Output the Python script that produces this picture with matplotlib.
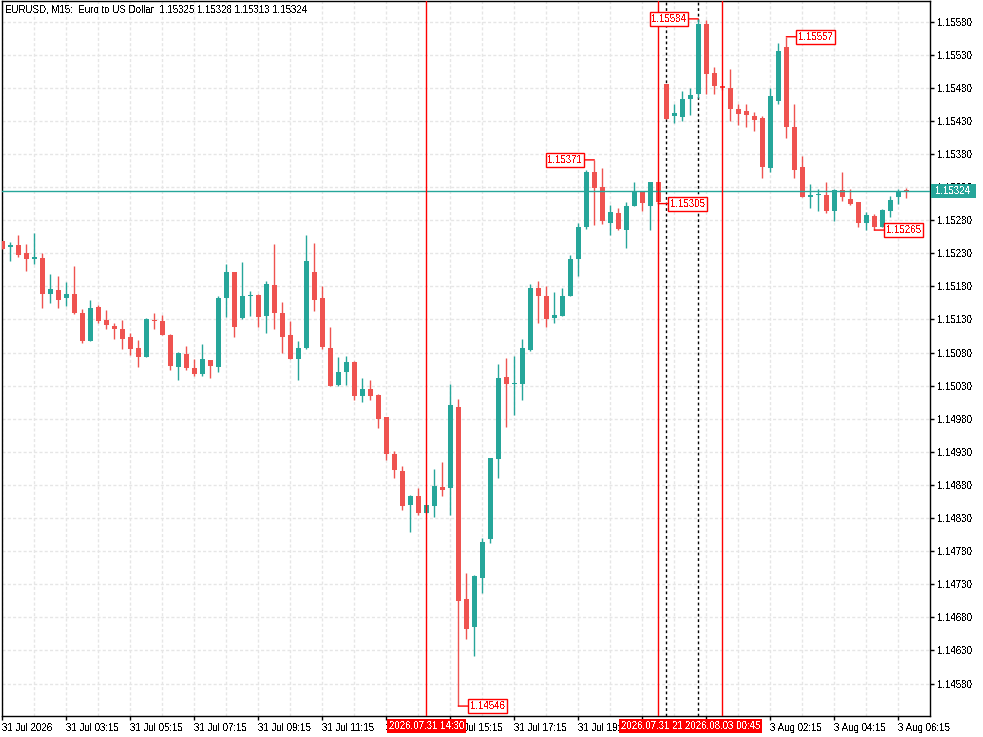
import numpy as np
import matplotlib
matplotlib.use('Agg')
import matplotlib.pyplot as plt
from matplotlib.ticker import MultipleLocator, FixedLocator
from matplotlib.patches import Rectangle

plt.rcParams['font.family'] = ['Liberation Sans', 'DejaVu Sans']
plt.rcParams['text.antialiased'] = False

# EURUSD M15 bars, first bar = 31 Jul 01:15
opens = [1.15249, 1.15239, 1.15243, 1.15231, 1.15221, 1.15223, 1.15169, 1.15174, 1.15162, 1.15168,
         1.15140, 1.15098, 1.15149, 1.15129, 1.15120, 1.15116, 1.15103, 1.15087, 1.15073, 1.15129,
         1.15128, 1.15107, 1.15058, 1.15078, 1.15057, 1.15048, 1.15069, 1.15058, 1.15162, 1.15201,
         1.15132, 1.15165, 1.15167, 1.15135, 1.15182, 1.15140, 1.15107, 1.15070, 1.15087, 1.15201,
         1.15163, 1.15087, 1.15031, 1.15050, 1.15066, 1.15015, 1.15025, 1.15016, 1.14982, 1.14927,
         1.14901, 1.14849, 1.14864, 1.14837, 1.14848, 1.14877, 1.14876, 1.14998, 1.14708, 1.14665,
         1.14740, 1.14798, 1.14919, 1.15043, 1.15032, 1.15033, 1.15084, 1.15178, 1.15166, 1.15132,
         1.15135, 1.15166, 1.15221, 1.15269, 1.15352, 1.15330, 1.15275, 1.15291, 1.15265, 1.15302,
         1.15323, 1.15302, 1.15337, 1.15485, 1.15437, 1.15436, 1.15463, 1.15471, 1.15577, 1.15503,
         1.15482, 1.15479, 1.15448, 1.15445, 1.15438, 1.15435, 1.15359, 1.15460, 1.15542, 1.15421,
         1.15361, 1.15315, 1.15318, 1.15318, 1.15294, 1.15326, 1.15312, 1.15308, 1.15275, 1.15287,
         1.15270, 1.15294, 1.15315, 1.15325]
highs = [1.15249, 1.15247, 1.15258, 1.15244, 1.15261, 1.15230, 1.15199, 1.15196, 1.15187, 1.15210,
         1.15146, 1.15159, 1.15152, 1.15145, 1.15125, 1.15129, 1.15110, 1.15099, 1.15132, 1.15139,
         1.15137, 1.15108, 1.15081, 1.15090, 1.15071, 1.15093, 1.15069, 1.15166, 1.15213, 1.15201,
         1.15217, 1.15173, 1.15169, 1.15188, 1.15244, 1.15157, 1.15127, 1.15098, 1.15258, 1.15246,
         1.15181, 1.15119, 1.15074, 1.15075, 1.15067, 1.15042, 1.15039, 1.15017, 1.14982, 1.14932,
         1.14908, 1.14865, 1.14876, 1.14850, 1.14904, 1.14915, 1.15033, 1.15010, 1.14747, 1.14744,
         1.14800, 1.14920, 1.15063, 1.15072, 1.15075, 1.15101, 1.15184, 1.15188, 1.15181, 1.15172,
         1.15178, 1.15228, 1.15276, 1.15355, 1.15371, 1.15359, 1.15303, 1.15299, 1.15308, 1.15338,
         1.15323, 1.15338, 1.15338, 1.15485, 1.15456, 1.15475, 1.15479, 1.15584, 1.15583, 1.15512,
         1.15483, 1.15509, 1.15456, 1.15456, 1.15444, 1.15438, 1.15479, 1.15548, 1.15557, 1.15456,
         1.15377, 1.15335, 1.15327, 1.15338, 1.15327, 1.15352, 1.15327, 1.15308, 1.15293, 1.15290,
         1.15297, 1.15317, 1.15327, 1.15328]
lows = [1.15237, 1.15219, 1.15224, 1.15203, 1.15213, 1.15148, 1.15155, 1.15148, 1.15150, 1.15138,
        1.15095, 1.15098, 1.15124, 1.15115, 1.15100, 1.15085, 1.15077, 1.15058, 1.15073, 1.15116,
        1.15106, 1.15053, 1.15039, 1.15054, 1.15044, 1.15044, 1.15041, 1.15050, 1.15133, 1.15103,
        1.15130, 1.15135, 1.15118, 1.15110, 1.15116, 1.15079, 1.15071, 1.15039, 1.15086, 1.15142,
        1.15086, 1.15029, 1.15030, 1.15031, 1.15009, 1.15006, 1.15009, 1.14966, 1.14918, 1.14890,
        1.14842, 1.14809, 1.14835, 1.14837, 1.14832, 1.14863, 1.14835, 1.14546, 1.14647, 1.14621,
        1.14717, 1.14792, 1.14891, 1.14968, 1.14986, 1.15009, 1.15082, 1.15124, 1.15119, 1.15124,
        1.15135, 1.15165, 1.15195, 1.15267, 1.15272, 1.15274, 1.15258, 1.15265, 1.15238, 1.15302,
        1.15294, 1.15265, 1.15305, 1.15433, 1.15426, 1.15430, 1.15439, 1.15465, 1.15471, 1.15471,
        1.15477, 1.15430, 1.15424, 1.15420, 1.15415, 1.15344, 1.15352, 1.15456, 1.15404, 1.15344,
        1.15315, 1.15299, 1.15294, 1.15291, 1.15279, 1.15309, 1.15303, 1.15269, 1.15265, 1.15265,
        1.15269, 1.15285, 1.15305, 1.15313]
closes = [1.15237, 1.15243, 1.15227, 1.15221, 1.15225, 1.15168, 1.15176, 1.15160, 1.15168, 1.15139,
          1.15097, 1.15148, 1.15128, 1.15121, 1.15115, 1.15101, 1.15085, 1.15074, 1.15131, 1.15127,
          1.15106, 1.15059, 1.15080, 1.15056, 1.15047, 1.15071, 1.15059, 1.15163, 1.15202, 1.15119,
          1.15166, 1.15167, 1.15133, 1.15184, 1.15139, 1.15103, 1.15071, 1.15087, 1.15219, 1.15160,
          1.15088, 1.15030, 1.15051, 1.15066, 1.15015, 1.15025, 1.15015, 1.14980, 1.14926, 1.14902,
          1.14848, 1.14864, 1.14838, 1.14850, 1.14879, 1.14873, 1.15001, 1.14704, 1.14663, 1.14743,
          1.14794, 1.14920, 1.15042, 1.15033, 1.15034, 1.15087, 1.15178, 1.15165, 1.15130, 1.15137,
          1.15166, 1.15222, 1.15269, 1.15352, 1.15328, 1.15278, 1.15293, 1.15267, 1.15302, 1.15323,
          1.15306, 1.15337, 1.15308, 1.15433, 1.15442, 1.15463, 1.15469, 1.15577, 1.15500, 1.15482,
          1.15479, 1.15448, 1.15441, 1.15439, 1.15432, 1.15361, 1.15468, 1.15536, 1.15420, 1.15356,
          1.15315, 1.15318, 1.15318, 1.15294, 1.15326, 1.15315, 1.15305, 1.15276, 1.15288, 1.15270,
          1.15296, 1.15311, 1.15324, 1.15324]

# x-axis labels (bar index -> text)
tick_idx = [0, 8, 16, 24, 32, 40, 48, 56, 64, 72, 80, 88, 96, 104, 112]
tick_labels = ['31 Jul 2026', '31 Jul 03:15', '31 Jul 05:15', '31 Jul 07:15', '31 Jul 09:15',
               '31 Jul 11:15', '31 Jul 13:15', '31 Jul 15:15', '31 Jul 17:15', '31 Jul 19:15',
               '31 Jul 21:15', '3 Aug 00:15', '3 Aug 02:15', '3 Aug 04:15', '3 Aug 06:15']
price_ticks = [1.14580, 1.14630, 1.14680, 1.14730, 1.14780, 1.14830, 1.14880, 1.14930, 1.14980,
               1.15030, 1.15080, 1.15130, 1.15180, 1.15230, 1.15280, 1.15330, 1.15380, 1.15430,
               1.15480, 1.15530, 1.15580]

# high/low labels
hl_idx = [87, 98, 74, 82, 109, 57]
hl_price = [1.15584, 1.15557, 1.15371, 1.15305, 1.15265, 1.14546]
hl_side = ['left', 'right', 'left', 'right', 'right', 'right']

# vertical marker lines
vline_idx = [53, 82, 90]
vline_text = ['2026.07.31 14:30', '2026.07.31 21:45', '2026.08.03 00:45']
dotted_idx = [83, 87]

last_price = 1.15324
title = 'EURUSD, M15:  Euro to US Dollar  1.15325 1.15328 1.15313 1.15324'

TEAL = '#26a69a'
RED = '#ef5350'
W, H = 983, 737

fig = plt.figure(figsize=(W / 100, H / 100), dpi=100)
ax = fig.add_axes([2 / W, 21 / H, 928 / W, 715 / H])

o = np.array(opens)
h = np.array(highs)
l = np.array(lows)
c = np.array(closes)
x = np.arange(len(o))
cols = np.where(c >= o, TEAL, RED)

ax.vlines(x, l, h, colors=cols, lw=1, zorder=4)
body = np.maximum(np.abs(c - o), 0.000012)
ax.bar(x, body, bottom=np.minimum(o, c), width=0.7, color=cols, lw=0, zorder=4)

ax.set_xlim(-0.04, 115.96)
ax.set_ylim(1.14531, 1.15611)

# grid
ax.xaxis.set_major_locator(FixedLocator(tick_idx))
ax.set_xticklabels(tick_labels)
ax.xaxis.set_minor_locator(MultipleLocator(4))
ax.yaxis.tick_right()
ax.set_yticks(price_ticks)
ax.set_yticklabels([f'{p:.5f}' for p in price_ticks])
ax.grid(which='both', color='#e6e6e6', ls=(0, (2.2, 1.6)), lw=1)
ax.set_axisbelow(True)

ax.tick_params(axis='x', which='major', length=3, width=1, pad=2, labelsize=7)
ax.tick_params(axis='x', which='minor', length=0)
ax.tick_params(axis='y', length=3, width=1, pad=2, labelsize=7)
for t in ax.get_xticklabels():
    t.set_horizontalalignment('left')
for s in ax.spines.values():
    s.set_linewidth(1)
    s.set_color('black')

# current price line and its box on the price scale
ax.axhline(last_price, color=TEAL, lw=1, zorder=5)
y0, y1 = ax.get_ylim()
box_h = (y1 - y0) / 715 * 14
ax.add_patch(Rectangle((1.0 + 1 / 928, last_price - box_h / 2), 45 / 928, box_h,
                       transform=ax.get_yaxis_transform(), fc=TEAL, ec='none',
                       clip_on=False, zorder=8))
ax.text(1.0 + 5 / 928, last_price, f'{last_price:.5f}', transform=ax.get_yaxis_transform(),
        ha='left', va='center', fontsize=7, color='white', zorder=9, clip_on=False)

# vertical lines + time labels
for i in dotted_idx:
    ax.axvline(i, color='black', lw=1, ls=(0, (2, 2)), zorder=3)
for i, s in zip(vline_idx, vline_text):
    ax.axvline(i, color='red', lw=1, zorder=5)
    ax.text(i, -0.0135, s, transform=ax.get_xaxis_transform(), ha='center', va='center',
            fontsize=7, color='white', zorder=8, clip_on=False,
            bbox=dict(boxstyle='square,pad=0.2', fc='red', ec='none'))

# high / low labels
for i, p, side in zip(hl_idx, hl_price, hl_side):
    dx = -8.6 if side == 'left' else 8.6
    ax.annotate(f'{p:.5f}', xy=(i, p), xytext=(dx, 0), textcoords='offset points',
                ha='right' if side == 'left' else 'left', va='center', fontsize=7, color='red',
                zorder=6, bbox=dict(boxstyle='square,pad=0.2', fc='white', ec='red', lw=1),
                arrowprops=dict(arrowstyle='-', color='red', lw=1, shrinkA=0, shrinkB=0))

ax.text(3 / 928, 1 - 8 / 715, title, transform=ax.transAxes, ha='left', va='center',
        fontsize=7, color='black', zorder=7)

fig.savefig('out.png', dpi=100)
